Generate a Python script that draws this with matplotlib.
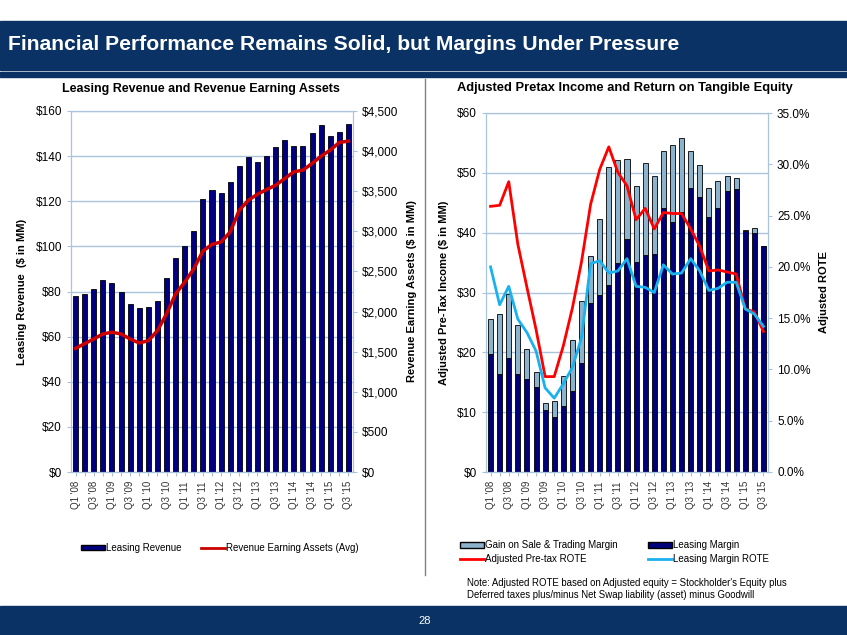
import matplotlib
matplotlib.use("Agg")
import matplotlib.pyplot as plt
from matplotlib.patches import Rectangle, Patch
from matplotlib.lines import Line2D
from matplotlib.ticker import FuncFormatter

plt.rcParams["font.family"] = ["Liberation Sans", "DejaVu Sans"]

quarters = [f"Q{q} '{y:02d}" for y in range(8, 16) for q in (1, 2, 3, 4)][:31]

# left chart: leasing revenue ($MM) and revenue earning assets (avg, $MM)
leasing_revenue = [78.1, 78.7, 81.0, 84.9, 83.6, 79.7, 74.5, 72.9, 73.3, 75.9, 86.1,
                   95.0, 100.0, 107.0, 121.2, 124.9, 123.6, 128.6, 135.7, 139.4, 137.6,
                   140.0, 144.1, 147.2, 144.6, 144.6, 150.3, 153.9, 148.8, 150.7, 154.4]
rea_avg = [1541, 1600, 1658, 1721, 1742, 1721, 1658, 1608, 1637, 1762, 1971,
           2221, 2366, 2533, 2754, 2838, 2867, 2992, 3263, 3388, 3463,
           3521, 3575, 3658, 3742, 3763, 3846, 3938, 4013, 4108, 4125]

# right chart: adjusted pretax income split ($MM) and ROTE (%)
leasing_margin = [19.8, 16.4, 19.0, 16.4, 15.6, 14.2, 10.3, 9.2, 11.0, 13.5, 18.2,
                  28.3, 29.5, 31.2, 35.0, 39.0, 35.1, 36.3, 36.5, 44.2, 41.7,
                  43.5, 47.4, 45.9, 42.6, 44.1, 46.9, 47.3, 40.2, 39.9, 37.8]
pretax_total = [25.6, 26.4, 29.7, 24.6, 20.5, 16.7, 11.6, 11.8, 16.0, 22.0, 28.5,
                36.1, 42.3, 50.9, 52.1, 52.3, 47.8, 51.7, 49.4, 53.6, 54.6,
                55.8, 53.6, 51.3, 47.4, 48.7, 49.4, 49.2, 40.4, 40.8, 37.8]
gain_on_sale = [round(t - l, 1) for t, l in zip(pretax_total, leasing_margin)]
pretax_rote = [25.9, 26.0, 28.3, 22.2, 18.0, 13.9, 9.3, 9.3, 12.3, 16.0, 20.5,
               26.1, 29.5, 31.7, 29.2, 27.9, 24.6, 25.7, 23.7, 25.3, 25.2,
               25.2, 23.7, 22.0, 19.6, 19.7, 19.5, 19.3, 15.9, 15.6, 13.7]
leasing_rote = [20.0, 16.3, 18.1, 14.9, 13.6, 11.8, 8.2, 7.2, 8.6, 10.2, 13.1,
                20.3, 20.6, 19.4, 19.6, 20.8, 18.1, 18.0, 17.5, 20.2, 19.3,
                19.4, 20.8, 19.6, 17.7, 17.9, 18.5, 18.5, 15.9, 15.4, 14.2]

NAVY = "#0b3264"
GRID = "#a9c4dc"
W, H = 847, 635


def box(x0, y0, x1, y1):
    """pixel box (top-left origin) -> figure fraction rect"""
    return [x0 / W, 1 - y1 / H, (x1 - x0) / W, (y1 - y0) / H]


def style(ax):
    for s in ax.spines.values():
        s.set_color(GRID)
    ax.grid(True, axis="y", color=GRID, lw=1)
    ax.set_axisbelow(True)
    ax.tick_params(axis="both", colors=GRID, labelcolor="black", length=3, labelsize=8.5)
    ax.tick_params(axis="x", labelsize=7, length=3)
    ax.set_xlim(-0.5, len(quarters) - 0.5)
    ax.set_xticks(range(len(quarters)))
    ax.set_xticklabels([q if i % 2 == 0 else "" for i, q in enumerate(quarters)],
                       rotation=90, color="#333333")


fig = plt.figure(figsize=(W / 100, H / 100), dpi=100)

# header / footer bands
fig.patches.append(Rectangle((0, 1 - 70 / H), 1, 49 / H, transform=fig.transFigure,
                             color=NAVY, zorder=0))
fig.patches.append(Rectangle((0, 1 - 77 / H), 1, 5 / H, transform=fig.transFigure,
                             color=NAVY, zorder=0))
fig.patches.append(Rectangle((0, 0), 1, 29 / H, transform=fig.transFigure,
                             color=NAVY, zorder=0))
fig.text(8 / W, 1 - 45 / H, "Financial Performance Remains Solid, but Margins Under Pressure",
         color="white", fontsize=15.2, fontweight="bold", va="center")
fig.text(425 / W, 1 - 621 / H, "28", color="white", fontsize=8, ha="center", va="center")
fig.add_artist(Line2D([425 / W, 425 / W], [1 - 79 / H, 1 - 575 / H],
                      transform=fig.transFigure, color="#808080", lw=1))

# ---- left chart ----
x = list(range(len(quarters)))
ax1 = fig.add_axes(box(71, 111, 353, 472))
style(ax1)
ax1.bar(x, leasing_revenue, width=0.55, color="#000080", edgecolor="black", lw=0.6)
ax1.set_ylim(0, 160)
ax1.set_yticks(range(0, 161, 20))
ax1.yaxis.set_major_formatter(FuncFormatter(lambda v, p: f"${v:,.0f}"))
ax1.set_ylabel("Leasing Revenue  ($ in MM)", fontsize=8, fontweight="bold", labelpad=6)
ax1.set_title("Leasing Revenue and Revenue Earning Assets", fontsize=9,
              fontweight="bold", pad=14, x=(201 - 71) / 282)
ax1b = ax1.twinx()
ax1b.plot(x, rea_avg, color="#cc0000", lw=2.5)
ax1b.set_ylim(0, 4500)
ax1b.set_yticks(range(0, 4501, 500))
ax1b.yaxis.set_major_formatter(FuncFormatter(lambda v, p: f"${v:,.0f}"))
for s in ax1b.spines.values():
    s.set_color(GRID)
ax1b.tick_params(colors=GRID, labelcolor="black", length=3, labelsize=8.5)
ax1b.set_ylabel("Revenue Earning Assets ($ in MM)", fontsize=8, fontweight="bold", labelpad=6)

# ---- right chart ----
ax2 = fig.add_axes(box(486, 113, 768, 472))
style(ax2)
ax2.bar(x, leasing_margin, width=0.55, color="#00007a", edgecolor="black", lw=0.6)
ax2.bar(x, gain_on_sale, width=0.55, bottom=leasing_margin, color="#8db2cb",
        edgecolor="black", lw=0.6)
ax2.set_ylim(0, 60)
ax2.set_yticks(range(0, 61, 10))
ax2.yaxis.set_major_formatter(FuncFormatter(lambda v, p: f"${v:,.0f}"))
ax2.set_ylabel("Adjusted Pre-Tax Income ($ in MM)", fontsize=8, fontweight="bold", labelpad=6)
ax2.set_title("Adjusted Pretax Income and Return on Tangible Equity", fontsize=9.3,
              fontweight="bold", pad=16, x=(625 - 486) / 282)
ax2b = ax2.twinx()
ax2b.plot(x, pretax_rote, color="#ff0000", lw=2)
ax2b.plot(x, leasing_rote, color="#1ab2ee", lw=2)
ax2b.set_ylim(0, 35)
ax2b.set_yticks(range(0, 36, 5))
ax2b.yaxis.set_major_formatter(FuncFormatter(lambda v, p: f"{v:.1f}%"))
for s in ax2b.spines.values():
    s.set_color(GRID)
ax2b.tick_params(colors=GRID, labelcolor="black", length=3, labelsize=8.5)
ax2b.set_ylabel("Adjusted ROTE", fontsize=8, fontweight="bold", labelpad=6)

# ---- legends ----
fig.legend([Patch(facecolor="#000080", edgecolor="black"),
            Line2D([], [], color="#cc0000", lw=2)],
           ["Leasing Revenue", "Revenue Earning Assets (Avg)"],
           loc="center left", bbox_to_anchor=(72 / W, 1 - 548 / H), ncol=2, frameon=False,
           fontsize=7, handlelength=2.5, handleheight=0.5, handletextpad=0.1,
           columnspacing=2.0)
fig.legend([Patch(facecolor="#8db2cb", edgecolor="black"),
            Line2D([], [], color="#ff0000", lw=2),
            Patch(facecolor="#00007a", edgecolor="black"),
            Line2D([], [], color="#1ab2ee", lw=2)],
           ["Gain on Sale & Trading Margin", "Adjusted Pre-tax ROTE",
            "Leasing Margin", "Leasing Margin ROTE"],
           loc="center left", bbox_to_anchor=(451 / W, 1 - 552 / H), ncol=2, frameon=False,
           fontsize=7, handlelength=2.5, handleheight=0.5, handletextpad=0.1,
           columnspacing=3.1, labelspacing=0.35)
fig.text(467 / W, 1 - 589 / H,
         "Note: Adjusted ROTE based on Adjusted equity = Stockholder's Equity plus\n"
         "Deferred taxes plus/minus Net Swap liability (asset) minus Goodwill",
         fontsize=6.9, va="center", linespacing=1.3)

fig.savefig("out.png", dpi=100)
